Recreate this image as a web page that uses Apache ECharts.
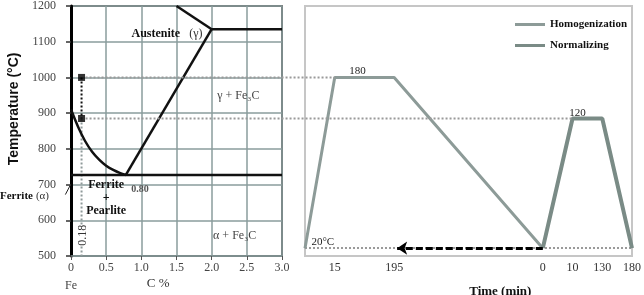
<!DOCTYPE html>
<html>
<head>
<meta charset="utf-8">
<script src="https://cdn.jsdelivr.net/npm/echarts@6/dist/echarts.min.js"></script>
<style>
  html, body { margin: 0; padding: 0; background: #fff; }
  #chart { width: 644px; height: 295px; }
</style>
</head>
<body>
<div id="chart"></div>
<script>
// --- left: Fe-C phase diagram (C %, °C)
const a3Line = [[0, 910], [0.1, 862], [0.2, 822], [0.3, 792], [0.4, 770], [0.5, 753], [0.6, 741], [0.7, 732], [0.78, 727]]
const acmLine = [[0.78, 727], [2.0, 1135]]
const liquidusLine = [[1.5, 1200], [2.0, 1135]]
const eutecticLine = [[2.0, 1135], [3.0, 1135]]
const eutectoidLine = [[0, 727], [3.0, 727]]
const steelCarbon = 0.15
const homogTemp = 1000
const normTemp = 885

// --- right: heat treatment schedule (schematic time axis, one slot per step)
const timeSlots = ['', '15', '', '195', '', '', '', '', '0', '10', '130', '180']
const roomLevel = 522 // 20 °C, drawn on the broken axis
const homogenization = [roomLevel, 1000, '-', 1000, '-', '-', '-', '-', roomLevel, '-', '-', '-']
const normalizing = ['-', '-', '-', '-', '-', '-', '-', '-', roomLevel, 885, 885, roomLevel]
const seriesNames = ['Homogenization', 'Normalizing']

const serif = '"Liberation Serif", "DejaVu Serif", serif'
const toPairs = arr => arr.map((v, i) => [i, v])

function phaseLine(data, smooth) {
  return {
    type: 'line', xAxisIndex: 0, yAxisIndex: 0, data: data, smooth: smooth || false,
    symbol: 'none', silent: true, z: 4,
    lineStyle: { color: '#111', width: 2.5 }
  }
}

const dotted = (color, w) => ({ color: color, width: w, type: [2, 2] })

const chart = echarts.init(document.getElementById('chart'))
chart.setOption({
  animation: false,
  legend: {
    data: seriesNames,
    orient: 'vertical',
    right: 12,
    top: 14,
    icon: 'rect',
    itemWidth: 30,
    itemHeight: 3,
    itemGap: 10,
    textStyle: { fontFamily: serif, fontWeight: 'bold', fontSize: 11, color: '#111' }
  },
  grid: [
    { left: 71, top: 6, width: 211, height: 250, show: true, borderColor: '#222', borderWidth: 1.5 },
    { left: 305, top: 6, width: 330, height: 250, show: true, borderColor: '#c6c6c6', borderWidth: 2 }
  ],
  xAxis: [
    {
      gridIndex: 0, type: 'value', min: 0, max: 3, interval: 0.5,
      axisLine: { lineStyle: { color: '#7d8f8f', width: 1.5 } },
      axisTick: { show: true, length: 4, lineStyle: { color: '#555' } },
      axisLabel: { formatter: v => v === 0 ? '0' : v.toFixed(1), fontFamily: serif, fontSize: 12, color: '#444', margin: 6 },
      splitLine: { show: true, lineStyle: { color: '#8a9d9d', width: 1.5 } }
    },
    {
      gridIndex: 1, type: 'value', min: 0, max: timeSlots.length - 1, interval: 1,
      axisLine: { show: false }, axisTick: { show: false }, splitLine: { show: false },
      axisLabel: { formatter: v => timeSlots[v] || '', fontFamily: serif, fontSize: 12, color: '#333', margin: 6 }
    }
  ],
  yAxis: [
    {
      gridIndex: 0, type: 'value', min: 500, max: 1200, interval: 100,
      axisLine: { show: true, lineStyle: { color: '#000', width: 3 } },
      axisTick: { show: true, length: 5, lineStyle: { color: '#333', width: 1.5 } },
      axisLabel: { formatter: v => String(v), fontFamily: serif, fontSize: 12, color: '#444', margin: 15 },
      splitLine: { show: true, lineStyle: { color: '#8a9d9d', width: 1.5 } }
    },
    { gridIndex: 1, type: 'value', min: 500, max: 1200, show: false, splitLine: { show: false } }
  ],
  series: [
    phaseLine(a3Line, 0.3),
    phaseLine(acmLine),
    phaseLine(liquidusLine),
    phaseLine(eutecticLine),
    phaseLine(eutectoidLine),
    {
      type: 'line', xAxisIndex: 0, yAxisIndex: 0, symbol: 'none', silent: true, z: 3,
      data: [[steelCarbon, normTemp], [steelCarbon, 500]],
      lineStyle: dotted('#8f9a9a', 2)
    },
    {
      type: 'line', xAxisIndex: 0, yAxisIndex: 0, symbol: 'none', silent: true, z: 5,
      data: [[steelCarbon, homogTemp], [steelCarbon, normTemp]],
      lineStyle: dotted('#111', 2)
    },
    {
      type: 'scatter', xAxisIndex: 0, yAxisIndex: 0, symbol: 'rect', symbolSize: 7, silent: true, z: 6,
      data: [[steelCarbon, homogTemp], [steelCarbon, normTemp]],
      itemStyle: { color: '#000' }
    },
    {
      name: seriesNames[0], type: 'line', xAxisIndex: 1, yAxisIndex: 1, symbol: 'none', connectNulls: true, z: 4,
      data: toPairs(homogenization),
      lineStyle: { color: '#8d9b98', width: 3 }, itemStyle: { color: '#8d9b98' },
      markLine: {
        silent: true, symbol: 'none', label: { show: false }, z: 2,
        lineStyle: dotted('#9a9a9a', 2),
        data: [
          [{ coord: [1, homogTemp] }, { coord: [1, 495] }],
          [{ coord: [3, homogTemp] }, { coord: [3, 495] }],
          [{ coord: [9, normTemp] }, { coord: [9, 495] }],
          [{ coord: [10, normTemp] }, { coord: [10, 495] }],
          [{ coord: [0, roomLevel] }, { coord: [11, roomLevel] }]
        ]
      }
    },
    {
      name: seriesNames[1], type: 'line', xAxisIndex: 1, yAxisIndex: 1, symbol: 'none', connectNulls: true, z: 4,
      data: toPairs(normalizing),
      lineStyle: { color: '#7a8b86', width: 4 }, itemStyle: { color: '#7a8b86' },
      markLine: {
        silent: true, symbol: ['none', 'arrow'], symbolSize: [10, 10], label: { show: false }, z: 6,
        lineStyle: { color: '#000', width: 3, type: [7, 3] },
        data: [[{ coord: [8, roomLevel] }, { coord: [3.1, roomLevel] }]]
      }
    }
  ]
})

// annotations placed through the axes' own scales
const L = p => chart.convertToPixel({ gridIndex: 0 }, p)
const R = p => chart.convertToPixel({ gridIndex: 1 }, p)

function text(p, str, style, extra) {
  return Object.assign({
    type: 'text', x: p[0], y: p[1], z: 20, silent: true,
    style: Object.assign({ text: str, fontFamily: serif, fontSize: 12, fill: '#222', align: 'left', verticalAlign: 'middle' }, style)
  }, extra || {})
}
function seg(a, b, style) {
  return { type: 'line', z: 15, silent: true, shape: { x1: a[0], y1: a[1], x2: b[0], y2: b[1] }, style: style }
}

const connector = { stroke: '#9a9a9a', lineWidth: 2, lineDash: [2, 2] }
const hA = L([steelCarbon, homogTemp]), hB = R([1, homogTemp])
const nA = L([steelCarbon, normTemp]), nB = R([9, normTemp])

chart.setOption({
  graphic: [
    seg([hA[0] + 4, hA[1]], hB, connector),
    seg([nA[0] + 4, nA[1]], nB, connector),
    seg(L([-0.08, 672]), L([0, 702]), { stroke: '#222', lineWidth: 1 }),
    text(L([0.86, 1122]), '{b|Austenite}   {n|(γ)}', {
      rich: {
        b: { fontFamily: serif, fontWeight: 'bold', fontSize: 12, fill: '#111' },
        n: { fontFamily: serif, fontSize: 12, fill: '#333' }
      }
    }),
    text(L([2.08, 948]), 'γ + Fe₃C', { fill: '#444' }),
    text(L([2.02, 556]), 'α + Fe₃C', { fill: '#444' }),
    text(L([0.5, 662]), 'Ferrite\n+\nPearlite', { fontWeight: 'bold', align: 'center', lineHeight: 13, fill: '#111' }),
    text(L([0.98, 686]), '0.80', { fontWeight: 'bold', fontSize: 10, align: 'center', fill: '#555' }),
    text(L([0.17, 558]), '0.18', { fontSize: 12, align: 'center', fill: '#333', backgroundColor: '#fff' }, { rotation: Math.PI / 2 }),
    text(L([-1.01, 667]), '{b|Ferrite} {n|(α)}', {
      rich: {
        b: { fontFamily: serif, fontWeight: 'bold', fontSize: 11, fill: '#111' },
        n: { fontFamily: serif, fontSize: 11, fill: '#333' }
      }
    }),
    text(L([0, 416]), 'Fe', { align: 'center', fill: '#444' }),
    text(L([1.24, 424]), 'C %', { align: 'center', fontSize: 13, fill: '#333' }),
    text(L([-0.81, 912]), 'Temperature (°C)', {
      fontFamily: '"Liberation Sans", Arial, sans-serif', fontWeight: 'bold', fontSize: 14, align: 'center', fill: '#111'
    }, { rotation: Math.PI / 2 }),
    text(R([1.77, 1018]), '180', { align: 'center', fontSize: 11, fill: '#222' }),
    text(R([9.17, 900]), '120', { align: 'center', fontSize: 11, fill: '#222' }),
    text(R([0.6, 540]), '20°C', { align: 'center', fontSize: 11, fill: '#222' }),
    text(R([6.57, 399]), 'Time (min)', { align: 'center', fontWeight: 'bold', fontSize: 13, fill: '#111' })
  ]
})
</script>
</body>
</html>
